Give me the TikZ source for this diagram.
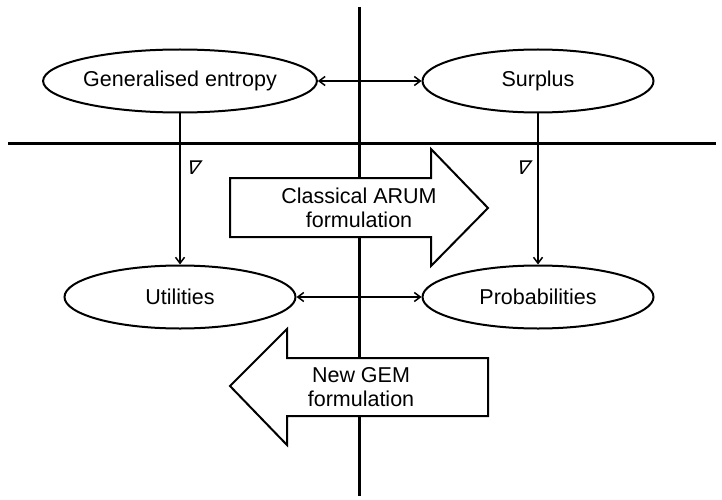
\documentclass[tikz,border=0pt]{standalone}
\usepackage{fontspec}
\setmainfont{Liberation Sans}
\newfontfamily\nablafont{DejaVu Sans}
\usetikzlibrary{shapes.geometric,arrows.meta}
\begin{document}
\begin{tikzpicture}[x=1pt,y=-1pt,>={Straight Barb[length=6pt,width=9pt]},
		oval/.style={draw,ellipse,line width=2pt,fill=white,minimum width=231pt,minimum height=63pt,inner sep=0pt,font=\fontsize{21.5}{24}\selectfont},
		link/.style={<->,line width=1.5pt},
		grad/.style={->,line width=1.5pt},
		nabla/.style={xslant=0.35,inner sep=0pt,font=\nablafont\fontsize{19}{19}\selectfont},
		bigarrow/.style={draw,line width=2pt,fill=white,line join=miter},
		label/.style={align=center,inner sep=0pt,font=\fontsize{21.5}{24}\selectfont}]
		\useasboundingbox (0,0) rectangle (722,500);
		\draw[line width=3pt] (359,7) -- (359,496);
		\draw[line width=3pt] (8,143) -- (716,143);
		\node[oval] (entropy) at (180,81) {Generalised entropy};
		\node[oval] (surplus) at (538,81) {Surplus};
		\node[oval] (utilities) at (180,297) {Utilities};
		\node[oval] (probs) at (538,297) {Probabilities};
		\draw[link] (entropy) -- (surplus);
		\draw[link] (utilities) -- (probs);
		\draw[grad] (entropy) -- (utilities);
		\draw[grad] (surplus) -- (probs);
		\node[nabla] (nablaL) at (194,168) {∇};
		\node[nabla] (nablaR) at (524,168) {∇};
		% classical direction
		\draw[bigarrow] (230,178) -- (431,178) -- (431,149) -- (488,208) -- (431,266) -- (431,237) -- (230,237) -- cycle;
		\node[label] (classical) at (359,208) {Classical ARUM\\formulation};
		% new direction
		\draw[bigarrow] (488,358) -- (287,358) -- (287,329) -- (230,386) -- (287,445) -- (287,416) -- (488,416) -- cycle;
		\node[label] (gem) at (361,387) {New GEM\\formulation};
\end{tikzpicture}
\end{document}
